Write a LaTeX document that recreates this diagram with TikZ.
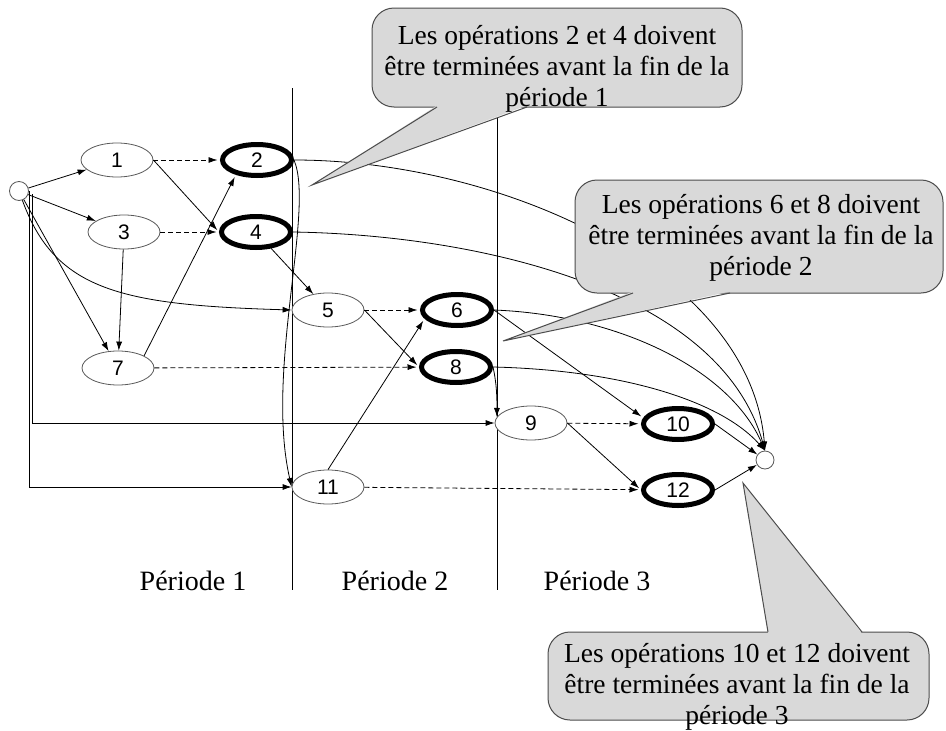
\documentclass[tikz,border=0pt]{standalone}
\usepackage{fontspec}
\setmainfont{Liberation Serif}
\newfontfamily\numfont{Liberation Sans}
\usetikzlibrary{shapes.geometric,arrows.meta,calc}
\definecolor{callfill}{gray}{0.85}
\definecolor{callline}{gray}{0.3}
\tikzset{
  op/.style={ellipse, draw=black!65, fill=white, line width=0.8pt, minimum width=72pt, minimum height=34pt, inner sep=0pt, font=\numfont\fontsize{21}{23}\selectfont},
  crit/.style={op, draw=black, line width=5pt, minimum width=69pt, minimum height=31pt},
  endpt/.style={circle, draw=black!65, fill=white, line width=0.8pt, minimum size=19pt, inner sep=0pt},
  arr/.style={-{Latex[length=9pt,width=6pt]}, line width=0.8pt},
  dsh/.style={arr, dash pattern=on 5pt off 3pt},
  tocrit/.style={shorten >=2.5pt},
  period/.style={font=\fontsize{28}{32}\selectfont},
  calltext/.style={align=center, font=\fontsize{27.5}{31}\selectfont, inner sep=0pt},
  callbox/.style={fill=callfill, draw=callline, line width=1pt, rounded corners=22pt},
  calltip/.style={fill=callfill},
  callside/.style={draw=callline, line width=1pt},
  periodline/.style={line width=0.9pt}
}
\begin{document}
\begin{tikzpicture}[x=1pt,y=-1pt]
\path[use as bounding box, fill=white] (0,0) rectangle (946,731);

% period separators
\draw[periodline] (292,88) coordinate (p1top) -- (292,590) coordinate (p1bot);
\draw[periodline] (497,118) coordinate (p2top) -- (497,590) coordinate (p2bot);

% nodes
\node[endpt] (S) at (19,191) {};
\node[endpt, minimum size=18pt] (E) at (765,460) {};
\node[op] (n1) at (117,160) {1};
\node[crit] (n2) at (257,160) {2};
\node[op] (n3) at (124,232) {3};
\node[crit] (n4) at (256,232) {4};
\node[op] (n5) at (328,310) {5};
\node[crit] (n6) at (457,310) {6};
\node[op] (n7) at (118,368) {7};
\node[crit] (n8) at (456,367) {8};
\node[op] (n9) at (531,423) {9};
\node[crit] (n10) at (678,424) {10};
\node[op] (n11) at (328,487) {11};
\node[crit] (n12) at (678,490) {12};

% edges from start
\draw[arr] (S) -- (n1);
\draw[arr] (S) -- (n3);
\draw[arr] (S) -- (n7);
\draw[arr] (S) .. controls (55,290) and (120,305) .. (n5.west);
\draw[arr] ([shift={(3,3)}]S.east) |- (n9.west);
\draw[arr] (S.east) |- (n11.west);

% period 1 edges
\draw[dsh, tocrit] (n1) -- (n2);
\draw[arr, tocrit] (n1.east) -- (n4.west);
\draw[dsh, tocrit] (n3) -- (n4);
\draw[arr] (n3) -- (n7);
\draw[arr, tocrit] (n7.25) -- (n2.215);
\draw[dsh, tocrit] (n7) -- (n8);
\draw[arr] (n2.east) .. controls (315,210) and (265,370) .. (n11.west);
\draw[arr] (n4) -- (n5);

% period 2 edges
\draw[dsh, tocrit] (n5) -- (n6);
\draw[arr, tocrit] (n5.east) -- (n8.west);
\draw[arr, tocrit] (n11.north) -- (n6.195);
\draw[dsh, tocrit] (n11) -- (n12);
\draw[arr, tocrit] (n6.east) -- (n10.170);
\draw[arr] (n8.east) .. controls (497,385) and (497,400) .. (n9.170);

% period 3 edges
\draw[dsh, tocrit] (n9) -- (n10);
\draw[arr, tocrit] (n9.east) -- (n12.west);
\draw[arr] (n10.east) -- (E);
\draw[arr] (n12.east) -- (E);

% long arcs to the end
\draw[arr] (n2.east) .. controls (500,160) and (750,270) .. (E.north);
\draw[arr] (n4.east) .. controls (480,235) and (720,290) .. (E.north);
\draw[arr] (n6.east) .. controls (620,315) and (730,370) .. (E.north);
\draw[arr] (n8.east) .. controls (620,370) and (720,400) .. (E.north);

% callout 1
\path[callbox] (372,8) rectangle (742,107);
\coordinate (t1) at (312,185);
\fill[calltip] (437,105.5) -- (t1) -- (527,105.5) -- cycle;
\draw[callside] (437,107) -- (t1) -- (527,107);
\node[calltext] (c1) at (557,69) {Les opérations 2 et 4 doivent\\être terminées avant la fin de la\\période 1};

% callout 2
\path[callbox] (575,180) rectangle (943,293);
\coordinate (t2) at (503,341);
\fill[calltip] (633,291.5) -- (t2) -- (730,291.5) -- cycle;
\draw[callside] (633,293) -- (t2) -- (730,293);
\node[calltext] (c2) at (761,238) {Les opérations 6 et 8 doivent\\être terminées avant la fin de la\\période 2};

% callout 3
\path[callbox] (548,632) rectangle (929,720);
\coordinate (t3) at (743,483);
\fill[calltip] (768,633.5) -- (t3) -- (862,633.5) -- cycle;
\draw[callside] (768,632) -- (t3) -- (862,632);
\node[calltext] (c3) at (737,687) {Les opérations 10 et 12 doivent\\être terminées avant la fin de la\\période 3};

% period labels
\node[period] (l1) at (193,581) {Période 1};
\node[period] (l2) at (395,581) {Période 2};
\node[period] (l3) at (597,581) {Période 3};
\end{tikzpicture}
\end{document}
